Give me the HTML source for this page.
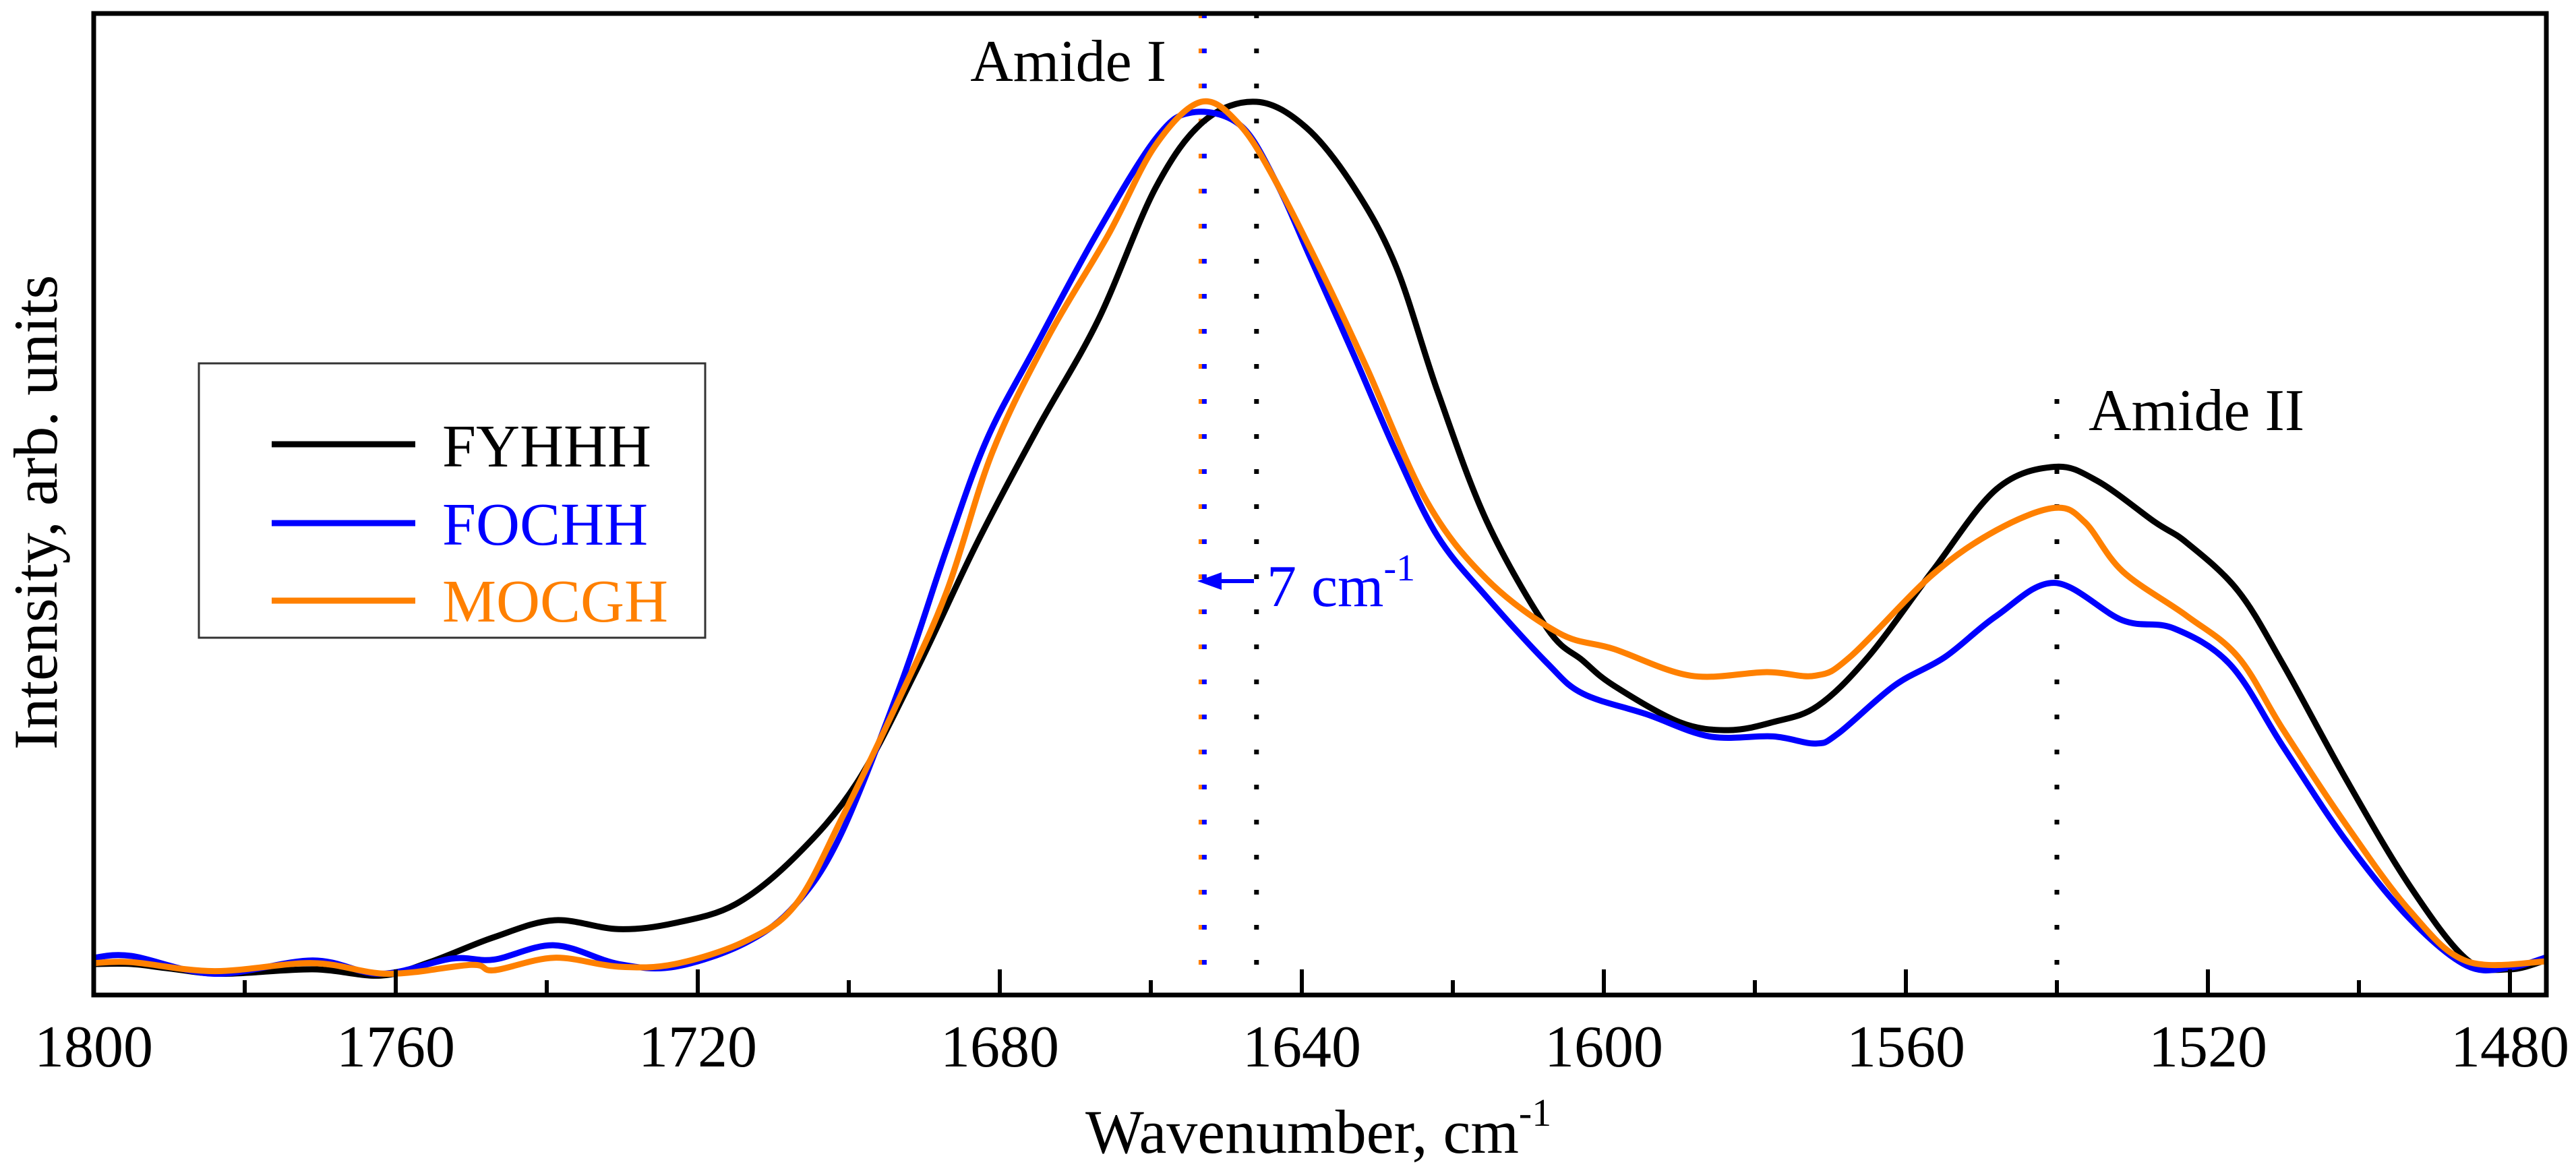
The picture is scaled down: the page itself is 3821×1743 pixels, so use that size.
<!DOCTYPE html>
<html><head><meta charset="utf-8"><style>
html,body{margin:0;padding:0;background:#fff;}
svg{display:block;font-family:"Liberation Serif","Times New Roman",serif;}
</style></head><body>
<svg id="chart" width="3821" height="1743" viewBox="0 0 3821 1743" xmlns="http://www.w3.org/2000/svg">
<rect x="0" y="0" width="3821" height="1743" fill="#fff"/>
<g id="marks"></g>
<g id="axes"></g>
<text transform="translate(84,760) rotate(-90)" text-anchor="middle" font-size="92">Intensity, arb. units</text>
<text x="1610" y="1710" font-size="92">Wavenumber, cm<tspan dy="-40" font-size="58">-1</tspan></text>
<text x="1730" y="120" font-size="88" text-anchor="end">Amide I</text>
<text x="3098" y="638" font-size="88">Amide II</text>
<g>
<line x1="1860" y1="862" x2="1800" y2="862" stroke="#0000ff" stroke-width="6"/>
<polygon points="1776,862 1812,849 1812,875" fill="#0000ff"/>
<text x="1879" y="899" font-size="88" fill="#0000ff">7 cm<tspan dy="-38" font-size="56">-1</tspan></text>
</g>
<g>
<rect x="295" y="539" width="751" height="407" fill="#fff" stroke="#333" stroke-width="3"/>
<line x1="403" y1="659" x2="616" y2="659" stroke="#000" stroke-width="9"/>
<text x="656" y="692" font-size="90" fill="#000">FYHHH</text>
<line x1="403" y1="776" x2="616" y2="776" stroke="#0000ff" stroke-width="9"/>
<text x="656" y="808" font-size="90" fill="#0000ff">FOCHH</text>
<line x1="403" y1="891" x2="616" y2="891" stroke="#ff8000" stroke-width="9"/>
<text x="656" y="922" font-size="90" fill="#ff8000">MOCGH</text>
</g>
</svg>
<script>
const fyhhhX=[1800,1795,1790,1783,1771,1762,1755.5,1747,1739,1730.5,1723,1715,1707,1699,1691,1683,1675,1667,1659.4,1653,1646,1639.4,1633,1627.5,1622,1615.5,1607.5,1602.8,1598.7,1590,1583.5,1577.6,1571.7,1565,1556.5,1548,1540.3,1534.6,1527,1522.8,1516,1510,1501.7,1493.3,1485.7,1480,1475];
const fyhhhY=[.034,.034,.029,.023,.028,.021,.036,.064,.083,.073,.080,.101,.155,.236,.364,.506,.634,.755,.903,.978,1.0,.971,.903,.815,.675,.53,.41,.374,.346,.305,.296,.305,.323,.378,.474,.566,.591,.575,.529,.506,.452,.369,.241,.122,.039,.028,.039];
const fochhX=[1800,1795,1784,1771,1762,1752.6,1747,1739,1730.5,1723,1713.6,1707,1701,1693,1687,1681.7,1675.3,1667.3,1659.4,1654.6,1648.2,1643.4,1638.7,1633,1627.5,1622,1615.5,1607.5,1602.8,1594.4,1586,1577.6,1572,1569,1561.5,1554.8,1548,1540.3,1531.3,1524.5,1517,1510,1501.7,1493.3,1485.7,1480,1475];
const fochhY=[.041,.043,.023,.038,.023,.040,.039,.055,.034,.031,.058,.101,.18,.350,.50,.622,.725,.850,.958,.988,.974,.910,.822,.714,.607,.513,.445,.371,.337,.314,.289,.289,.281,.292,.346,.378,.424,.461,.419,.410,.369,.277,.172,.085,.032,.030,.042];
const mocghX=[1800,1795,1784,1771,1761,1750,1747,1739,1730.5,1723,1713.6,1707,1701,1693,1687,1681,1673.7,1665.7,1659.4,1653.3,1648.2,1643.4,1637,1631.4,1623.5,1615.5,1606,1598.7,1588.5,1578.4,1572,1567.4,1556.5,1548,1540.3,1536.3,1531.3,1522.8,1516,1510,1501.7,1493.3,1485.7,1475];
const mocghY=[.035,.036,.026,.035,.023,.033,.027,.041,.031,.034,.060,.101,.196,.337,.452,.607,.735,.850,.951,1.0,.974,.910,.803,.702,.553,.465,.405,.387,.357,.361,.357,.378,.470,.520,.545,.529,.474,.424,.378,.296,.190,.094,.037,.037];
const majorTicks=[1800,1760,1720,1680,1640,1600,1560,1520,1480];
const majorTickLabels=["1800","1760","1720","1680","1640","1600","1560","1520","1480"];
const minorTicks=[1780,1740,1700,1660,1620,1580,1540,1500];
const refLinesBlueOrange=[1653];
const refLinesBlack=[1646,1540];

const L=139,R=3777,T=20,B=1476;
function xs(v){return L+(1800-v)*(3723-139)/320;}
function ys(i){return 1475-i*1324;}
const NS="http://www.w3.org/2000/svg";
const marks=document.getElementById('marks');
const axes=document.getElementById('axes');
function mk(tag,attrs,parent){const e=document.createElementNS(NS,tag);for(const k in attrs)e.setAttribute(k,attrs[k]);parent.appendChild(e);return e;}
function pathFrom(xa,ya){
  const p=xa.map((v,i)=>[xs(v),ys(ya[i])]);
  let d="M"+p[0][0].toFixed(1)+","+p[0][1].toFixed(1);
  for(let i=0;i<p.length-1;i++){
    const p0=p[Math.max(0,i-1)],p1=p[i],p2=p[i+1],p3=p[Math.min(p.length-1,i+2)];
    const c1x=p1[0]+(p2[0]-p0[0])/6,c1y=p1[1]+(p2[1]-p0[1])/6;
    const c2x=p2[0]-(p3[0]-p1[0])/6,c2y=p2[1]-(p3[1]-p1[1])/6;
    d+=" C"+c1x.toFixed(1)+","+c1y.toFixed(1)+" "+c2x.toFixed(1)+","+c2y.toFixed(1)+" "+p2[0].toFixed(1)+","+p2[1].toFixed(1);
  }
  return d;
}
refLinesBlueOrange.forEach(v=>{
  const a=mk('line',{x1:xs(v)-4,x2:xs(v)-4,y1:T,y2:B,stroke:'#ff8000','stroke-width':7,'stroke-dasharray':'7 45','stroke-linecap':'butt'},marks);
  
  
  const b=mk('line',{x1:xs(v)+1,x2:xs(v)+1,y1:T,y2:B,stroke:'#0000ff','stroke-width':7,'stroke-dasharray':'7 45'},marks);
  
  
});
refLinesBlack.forEach((v,i)=>{
  const a=mk('line',{x1:xs(v),x2:xs(v),y1:i===0?T:592,y2:B,stroke:'#000','stroke-width':7,'stroke-dasharray':'7 45'},marks);
  
  
});
[[fyhhhX,fyhhhY,'#000','series-fyhhh'],[fochhX,fochhY,'#0000ff','series-fochh'],[mocghX,mocghY,'#ff8000','series-mocgh']].forEach(s=>{
  const e=mk('path',{d:pathFrom(s[0],s[1]),fill:'none',stroke:s[2],'stroke-width':9,'stroke-linejoin':'round'},marks);
  
  
});
const fr=mk('rect',{x:L,y:T,width:R-L,height:B-T,fill:'none',stroke:'#000','stroke-width':7},axes);


majorTicks.forEach((v,i)=>{
  const t=mk('line',{x1:xs(v),x2:xs(v),y1:B,y2:B-38,stroke:'#000','stroke-width':6},axes);
  
  
  const lb=mk('text',{x:xs(v),y:1582,'font-size':88,'text-anchor':'middle'},axes);
  lb.textContent=majorTickLabels[i];
  
  
});
minorTicks.forEach(v=>{
  const t=mk('line',{x1:xs(v),x2:xs(v),y1:B,y2:B-22,stroke:'#000','stroke-width':6},axes);
  
  
});
</script>
</body></html>
